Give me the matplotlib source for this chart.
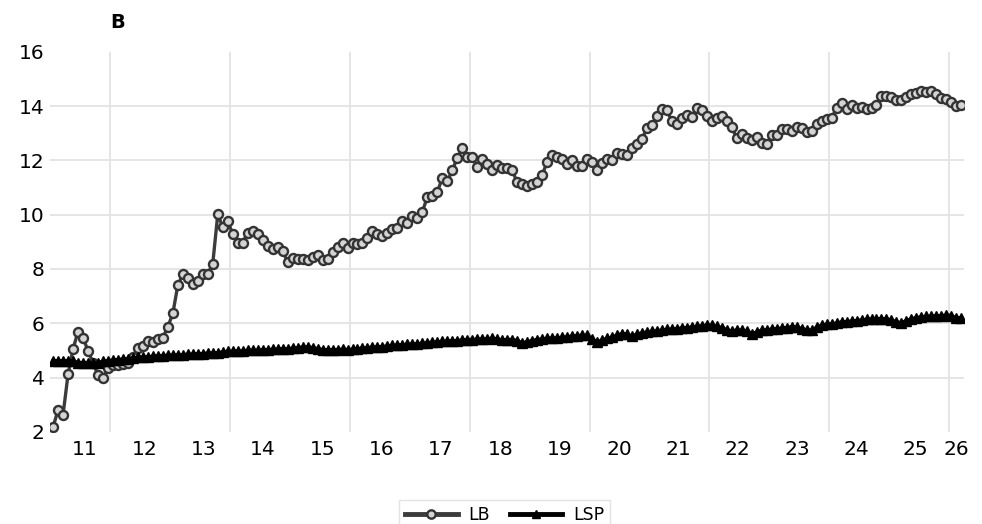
import numpy as np
import matplotlib
matplotlib.use("Agg")
import matplotlib.pyplot as plt

# monthly values
lb = [2.18, 2.80, 2.63, 4.12, 5.05, 5.69, 5.47, 4.98, 4.55, 4.09,
      3.98, 4.35, 4.45, 4.45, 4.50, 4.55, 4.74, 5.10, 5.17, 5.35,
      5.29, 5.41, 5.47, 5.87, 6.36, 7.41, 7.80, 7.68, 7.44, 7.56,
      7.80, 7.80, 8.20, 10.01, 9.55, 9.77, 9.28, 8.97, 8.97, 9.34,
      9.40, 9.28, 9.06, 8.85, 8.72, 8.81, 8.66, 8.27, 8.42, 8.36,
      8.36, 8.32, 8.44, 8.52, 8.32, 8.36, 8.64, 8.81, 8.97, 8.79,
      8.97, 8.91, 8.97, 9.15, 9.40, 9.28, 9.21, 9.34, 9.46, 9.52,
      9.77, 9.71, 9.95, 9.86, 10.11, 10.65, 10.69, 10.85, 11.34, 11.24,
      11.63, 12.10, 12.44, 12.12, 12.12, 11.77, 12.04, 11.85, 11.64, 11.83,
      11.73, 11.71, 11.63, 11.20, 11.12, 11.06, 11.14, 11.20, 11.46, 11.94,
      12.20, 12.12, 12.06, 11.88, 12.00, 11.79, 11.79, 12.06, 11.94, 11.64,
      11.91, 12.04, 12.00, 12.26, 12.25, 12.20, 12.44, 12.62, 12.80, 13.18,
      13.30, 13.63, 13.88, 13.84, 13.45, 13.33, 13.55, 13.66, 13.60, 13.94,
      13.84, 13.63, 13.45, 13.57, 13.63, 13.45, 13.23, 12.81, 12.96, 12.81,
      12.77, 12.86, 12.65, 12.59, 12.93, 12.93, 13.14, 13.14, 13.08, 13.23,
      13.18, 13.04, 13.08, 13.33, 13.45, 13.51, 13.55, 13.94, 14.12, 13.88,
      14.04, 13.94, 13.96, 13.88, 13.94, 14.04, 14.39, 14.37, 14.33, 14.21,
      14.23, 14.33, 14.43, 14.49, 14.55, 14.53, 14.55, 14.45, 14.31, 14.25,
      14.16, 14.00, 14.04]

lsp = [4.62, 4.62, 4.62, 4.62, 4.62, 4.55, 4.55, 4.55, 4.55, 4.55,
       4.60, 4.62, 4.64, 4.66, 4.68, 4.70, 4.72, 4.74, 4.76, 4.76,
       4.78, 4.80, 4.80, 4.82, 4.82, 4.84, 4.84, 4.86, 4.86, 4.88,
       4.88, 4.90, 4.90, 4.92, 4.94, 4.96, 4.96, 4.98, 4.98, 5.00,
       5.00, 5.00, 5.02, 5.02, 5.04, 5.04, 5.06, 5.06, 5.08, 5.10,
       5.12, 5.13, 5.10, 5.06, 5.03, 5.02, 5.02, 5.03, 5.04, 5.03,
       5.04, 5.06, 5.08, 5.10, 5.12, 5.13, 5.14, 5.16, 5.18, 5.20,
       5.21, 5.22, 5.23, 5.24, 5.26, 5.28, 5.30, 5.31, 5.33, 5.34,
       5.35, 5.36, 5.38, 5.40, 5.40, 5.41, 5.42, 5.43, 5.44, 5.42,
       5.38, 5.40, 5.40, 5.36, 5.28, 5.32, 5.36, 5.40, 5.42, 5.44,
       5.45, 5.46, 5.48, 5.50, 5.52, 5.54, 5.56, 5.55, 5.42, 5.31,
       5.38, 5.44, 5.48, 5.56, 5.62, 5.60, 5.52, 5.60, 5.64, 5.68,
       5.70, 5.72, 5.75, 5.77, 5.78, 5.80, 5.82, 5.84, 5.86, 5.88,
       5.90, 5.93, 5.92, 5.88, 5.84, 5.76, 5.71, 5.75, 5.74, 5.72,
       5.60, 5.68, 5.74, 5.76, 5.78, 5.80, 5.82, 5.84, 5.87, 5.86,
       5.80, 5.76, 5.74, 5.85, 5.93, 5.96, 5.98, 6.00, 6.05, 6.06,
       6.08, 6.10, 6.12, 6.14, 6.16, 6.17, 6.17, 6.16, 6.12, 6.05,
       6.02, 6.10, 6.16, 6.21, 6.23, 6.25, 6.26, 6.27, 6.28, 6.30,
       6.28, 6.20, 6.20]

year_labels = ["11", "12", "13", "14", "15", "16", "17", "18",
               "19", "20", "21", "22", "23", "24", "25", "26"]

x_lb = np.arange(len(lb))
x_lsp = np.arange(len(lsp))

fig = plt.figure(figsize=(9.82, 5.24), dpi=100)
ax = fig.add_axes([0.051, 0.176, 0.931, 0.725])

grid_col = "#e3e3e3"
for yv in range(4, 16, 2):
    ax.axhline(yv, color=grid_col, lw=1.3, zorder=0)
for k in range(8):
    ax.axvline(11.5 + 24 * k, color=grid_col, lw=1.3, zorder=0)

ax.plot(x_lb, lb, color="#3c3c3c", lw=2.4, marker="o", ms=6.5,
        mfc="#d4d4d4", mec="#333333", mew=1.7, label="LB", zorder=2)
ax.plot(x_lsp, lsp, color="black", lw=2.4, marker="^", ms=7,
        mfc="black", mec="black", label="LSP", zorder=3)

ax.set_xlim(-0.6, 182.6)
ax.set_ylim(2, 16)
ax.set_yticks(range(2, 17, 2))
tick_pos = [6.4 + 11.89 * k for k in range(15)] + [181.0]
ax.set_xticks(tick_pos)
ax.set_xticklabels(year_labels)
ax.tick_params(axis="both", length=0, labelsize=14.5)
ax.tick_params(axis="x", pad=6)
ax.tick_params(axis="y", pad=4)
for s in ax.spines.values():
    s.set_visible(False)

fig.text(0.12, 0.958, "B", fontsize=14, fontweight="bold", ha="center", va="center")

leg = fig.legend(loc="upper center", bbox_to_anchor=(0.514, 0.062), ncol=2,
                 fontsize=12.5, frameon=True, fancybox=False, handlelength=3.0,
                 columnspacing=1.2, borderpad=0.35, handletextpad=0.6)
leg.get_frame().set_edgecolor("#dcdcdc")
leg.get_frame().set_linewidth(1.0)
for h in leg.get_lines():
    h.set_linewidth(3.5)
    h.set_markersize(6)

fig.savefig("out.png", dpi=100)
